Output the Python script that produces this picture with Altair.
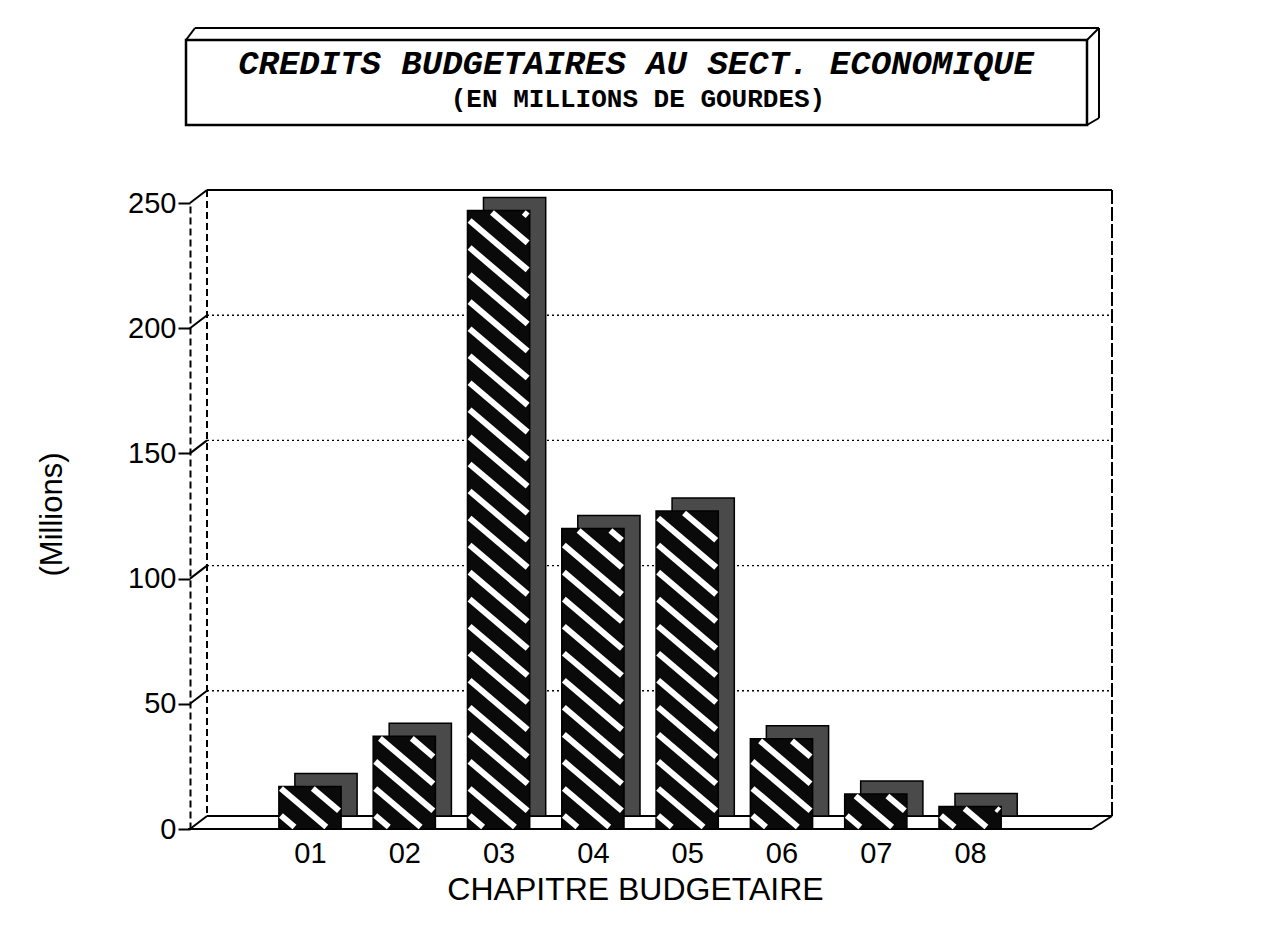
import altair as alt
import pandas as pd

# ---------------- data ----------------
chapters = ["01", "02", "03", "04", "05", "06", "07", "08"]
positions = [1, 2, 3, 4, 5, 6, 7, 8]
credits = [17, 37, 247, 120, 127, 36, 14, 9]
y_ticks = [0, 50, 100, 150, 200, 250]
grid_values = [50, 100, 150, 200]

title_text = "CREDITS BUDGETAIRES AU SECT. ECONOMIQUE"
subtitle_text = "(EN MILLIONS DE GOURDES)"
x_title = "CHAPITRE BUDGETAIRE"
y_title = "(Millions)"

df = pd.DataFrame({"pos": positions, "chapter": chapters, "value": credits})
tick_df = pd.DataFrame({"tick": y_ticks})
grid_df = pd.DataFrame({"tick": grid_values})

# ---------------- geometry / style ----------------
W, H = 922, 626
X_DOMAIN = [-0.2725, 9.505]
BAR_W = 0.66
DX, DY = 16, -13          # pseudo-3D depth in px
SLOPE = 32.0              # stripe slope (value units per x unit)
PERIOD = 10.8             # stripe period (value units)
INX, INY = 0.022, 0.8     # stripe inset
FONT = "Liberation Sans"
MONO = "Liberation Mono"

x_scale = alt.Scale(domain=X_DOMAIN, nice=False, zero=False)
y_scale = alt.Scale(domain=[0, 250], nice=False, zero=True)

x_axis = alt.Axis(
    values=positions, labelExpr="'0' + datum.value", title=x_title,
    ticks=False, tickSize=0, domain=False, grid=False, labelFlush=False,
    labelFont=FONT, labelFontSize=29, labelColor="black",
    labelPadding=33, labelBaseline="alphabetic",
    titleFont=FONT, titleFontSize=32, titleFontWeight="normal", titleColor="black",
    titleX=445, titleY=70, titleBaseline="alphabetic", titleAlign="center",
)
y_axis = alt.Axis(
    values=y_ticks, title=y_title, grid=False,
    labelFont=FONT, labelFontSize=29, labelColor="black", labelPadding=2,
    tickSize=12, tickWidth=2, tickColor="black",
    domainColor="black", domainWidth=2, domainDash=[7, 4],
    titleFont=FONT, titleFontSize=31, titleFontWeight="normal", titleColor="black",
    titleX=-138, titleY=311, titleAngle=-90, titleAlign="center", titleBaseline="middle",
)


def seg(x1, y1, x2, y2, dash=None, width=2.0):
    kw = dict(color="black", strokeWidth=width)
    if dash:
        kw["strokeDash"] = dash
    return alt.Chart(alt.Data(values=[{"d": 1}])).mark_rule(**kw).encode(
        x=alt.value(x1), x2=alt.value(x2), y=alt.value(y1), y2=alt.value(y2)
    )


def txt(x, y, s, size, style, weight):
    return alt.Chart(alt.Data(values=[{"d": 1}])).mark_text(
        font=MONO, fontSize=size, fontStyle=style, fontWeight=weight,
        color="black", align="center", baseline="middle"
    ).encode(x=alt.value(x), y=alt.value(y), text=alt.value(s))


# ---------------- title box ----------------
box_front = alt.Chart(alt.Data(values=[{"d": 1}])).mark_rect(
    fill="white", stroke="black", strokeWidth=2.5
).encode(x=alt.value(-4), x2=alt.value(897), y=alt.value(-163), y2=alt.value(-78))
box_lines = [
    seg(-4, -163, 5, -175), seg(5, -175, 909, -175), seg(897, -163, 909, -175),
    seg(909, -175, 909, -85), seg(909, -85, 897, -78),
]
title_t = txt(446, -139, title_text, 34, "italic", "bold")
subtitle_t = txt(448, -104, subtitle_text, 26, "normal", "bold")

# ---------------- wall & floor ----------------
wall = [
    seg(17, -13, 17, 613, dash=[7, 4]),
    seg(17, -13, 922, -13),
    seg(922, -13, 922, 613, dash=[14, 3]),
    seg(17, 613, 922, 613),
    seg(-2, 626, 902, 626),
    seg(902, 626, 922, 613),
    seg(-182, -197, 1062, -197, width=2),
]

grid = alt.Chart(grid_df).mark_rule(
    color="black", strokeWidth=1.4, strokeDash=[2, 3], yOffset=DY
).encode(x=alt.value(17), x2=alt.value(922),
         y=alt.Y("tick:Q", scale=y_scale, axis=y_axis))

tick_diag = alt.Chart(tick_df).mark_rule(
    color="black", strokeWidth=2, y2Offset=DY
).encode(x=alt.value(0), x2=alt.value(17),
         y=alt.Y("tick:Q", scale=y_scale, axis=y_axis), y2=alt.Y2("tick"))

# ---------------- bars ----------------
bars_base = alt.Chart(df).transform_calculate(
    xl=f"datum.pos - {BAR_W / 2}", xr=f"datum.pos + {BAR_W / 2}", zero="0"
)
shadow = bars_base.mark_rect(
    fill="#4a4a4a", stroke="black", strokeWidth=1.5,
    xOffset=DX, x2Offset=DX, yOffset=DY, y2Offset=DY
).encode(
    x=alt.X("xl:Q", scale=x_scale, axis=x_axis), x2="xr",
    y=alt.Y("value:Q", scale=y_scale, axis=y_axis), y2="zero:Q",
)
front = bars_base.mark_rect(fill="#0a0a0a", stroke="black", strokeWidth=1.5).encode(
    x=alt.X("xl:Q", scale=x_scale, axis=x_axis), x2="xr",
    y=alt.Y("value:Q", scale=y_scale, axis=y_axis), y2="zero:Q",
)

stripes = (
    alt.Chart(df)
    .transform_calculate(n=f"ceil((datum.value + {SLOPE * BAR_W}) / {PERIOD})")
    .transform_calculate(k="sequence(0, datum.n)")
    .transform_flatten(["k"])
    .transform_calculate(c=f"(datum.k + 0.5) * {PERIOD}")
    .transform_calculate(L=f"datum.pos - {BAR_W / 2 - INX}")
    .transform_calculate(R=f"datum.pos + {BAR_W / 2 - INX}")
    .transform_calculate(top=f"datum.value - {INY}")
    .transform_calculate(
        xs=f"datum.c > datum.top ? datum.L + (datum.c - datum.top) / {SLOPE} : datum.L"
    )
    .transform_calculate(ys="min(datum.c, datum.top)")
    .transform_calculate(low=f"datum.c - {SLOPE} * (datum.R - datum.L)")
    .transform_calculate(
        xe=f"datum.low < {INY} ? datum.L + (datum.c - {INY}) / {SLOPE} : datum.R"
    )
    .transform_calculate(ye=f"max(datum.low, {INY})")
    .transform_filter("datum.xe > datum.xs + 0.005 && datum.ys > datum.ye")
    .mark_rule(color="white", strokeWidth=6, strokeCap="butt")
    .encode(
        x=alt.X("xs:Q", scale=x_scale, axis=x_axis), x2="xe",
        y=alt.Y("ys:Q", scale=y_scale, axis=y_axis), y2="ye",
    )
)

chart = alt.layer(
    box_front, *box_lines, title_t, subtitle_t,
    *wall, grid, tick_diag, shadow, front, stripes,
).properties(
    width=W, height=H,
    padding={"left": 182, "top": 195, "right": 140, "bottom": 100},
    autosize=alt.AutoSizeParams(type="none"),
    background="white",
).configure_view(stroke=None)

chart.save("out.html", embed_options={"renderer": "svg", "actions": False})
